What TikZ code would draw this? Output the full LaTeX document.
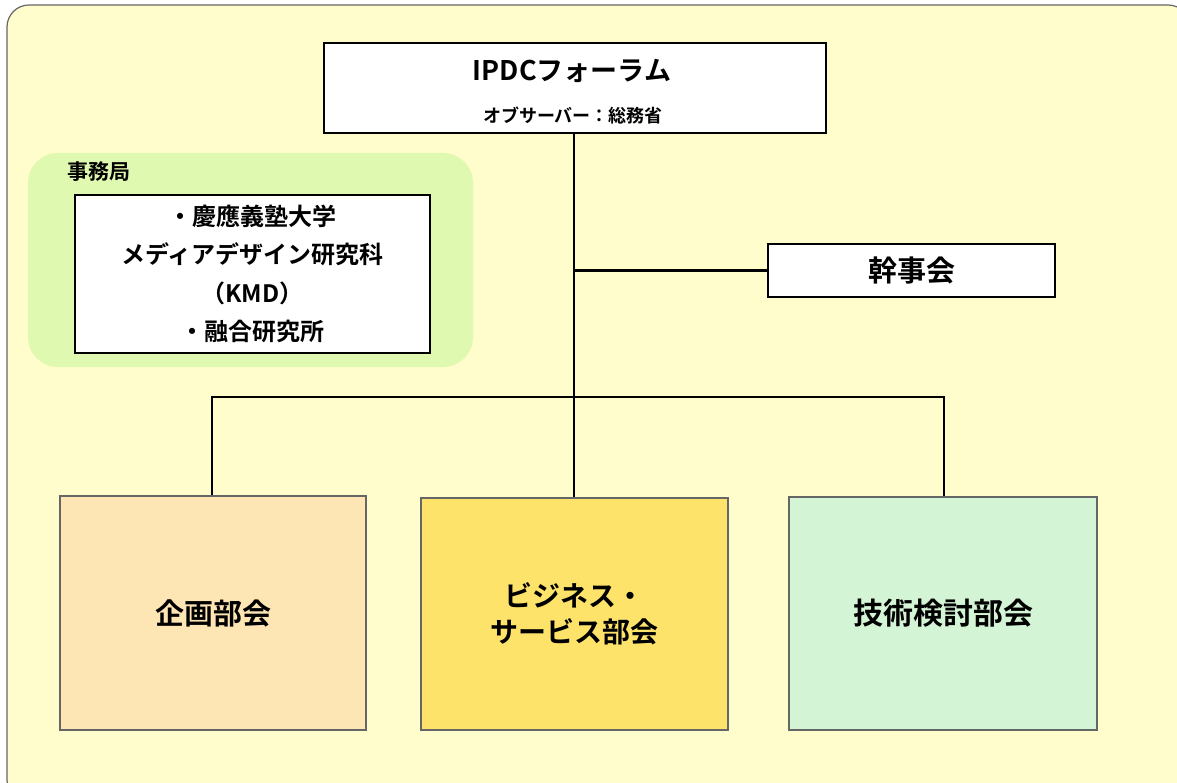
\documentclass[tikz,border=0pt]{standalone}
\usepackage{fontspec}
\setmainfont{Noto Sans CJK JP}
\newfontfamily\jpb{Noto Sans CJK JP Bold}
\definecolor{bgyellow}{HTML}{FFFDCC}
\definecolor{secgreen}{HTML}{DFF9B0}
\definecolor{boxorange}{HTML}{FEE6B4}
\definecolor{boxyellow}{HTML}{FEE36A}
\definecolor{boxgreen}{HTML}{D4F4D6}
\begin{document}
\begin{tikzpicture}[x=1pt,y=-1pt,
  whitebox/.style={draw=black,line width=2.2pt,fill=white},
  dept/.style={draw=black!60,line width=1.2pt},
  conn/.style={line width=2.2pt,black},
  lbl/.style={font=\jpb\fontsize{29}{36}\selectfont,align=center}]
\useasboundingbox (0,0) rectangle (1177,783);
\begin{scope}
\clip (0,0) rectangle (1177,783);
\draw[fill=bgyellow,draw=black!60,line width=1.2pt,rounded corners=22pt] (7,5) rectangle (1190,802);
\end{scope}
% secretariat
\path[fill=secgreen,rounded corners=30pt] (28,153) rectangle (473,367);
\node[anchor=west,font=\jpb\fontsize{21}{24}\selectfont,inner sep=0pt] (jim) at (67,172) {事務局};
\node[whitebox,minimum width=355pt,minimum height=158pt] (sec) at (252.5,274) {};
\node[align=center,font=\jpb\fontsize{24}{38.5}\selectfont] at (sec.center) {・慶應義塾大学\\メディアデザイン研究科\\（KMD）\\・融合研究所};
% top
\node[whitebox,minimum width=502pt,minimum height=90pt] (top) at (575,88) {};
\node[font=\jpb\fontsize{27}{30}\selectfont] at (572,71) {IPDCフォーラム};
\node[font=\jpb\fontsize{18}{20}\selectfont] at (573,116) {オブサーバー：総務省};
% kanji
\node[whitebox,minimum width=287pt,minimum height=53pt,lbl] (kanji) at (911.5,270.5) {幹事会};
% departments
\node[dept,fill=boxorange,minimum width=306pt,minimum height=234pt,lbl] (d1) at (213,613) {企画部会};
\node[dept,fill=boxyellow,minimum width=307pt,minimum height=232pt,lbl,font=\jpb\fontsize{28}{36}\selectfont] (d2) at (574.5,614) {ビジネス・\\サービス部会};
\node[dept,fill=boxgreen,minimum width=308pt,minimum height=233pt,lbl,font=\jpb\fontsize{30}{36}\selectfont] (d3) at (943,613.5) {技術検討部会};
% connectors
\coordinate (bus) at (574,397);
\coordinate (kj) at (574,270.5);
\draw[conn] (top.south -| bus) -- (d2.north -| bus);
\draw[conn] (kj) -- (kanji.west);
\draw[conn] (d1.north -| 212,0) |- (bus) -| (d3.north -| 944,0);
\end{tikzpicture}
\end{document}
